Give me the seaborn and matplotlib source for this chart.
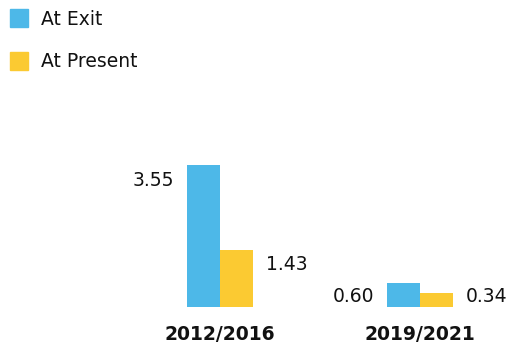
import matplotlib
matplotlib.use("Agg")
import matplotlib.pyplot as plt
from matplotlib.lines import Line2D
import pandas as pd
import seaborn as sns

periods = ["2012/2016", "2019/2021"]
series = ["At Exit", "At Present"]
at_exit = [3.55, 0.60]
at_present = [1.43, 0.34]
colors = ["#4DB8E8", "#FBCA32"]

df = pd.DataFrame({
    "period": periods * 2,
    "series": [series[0]] * 2 + [series[1]] * 2,
    "value": at_exit + at_present,
})

sns.set_style("white")
plt.rcParams["font.family"] = ["DejaVu Sans"]

fig = plt.figure(figsize=(5.13, 3.45), dpi=100)
ax = fig.add_axes([120 / 513, 38 / 345, 390 / 513, 142 / 345])

sns.barplot(data=df, x="period", y="value", hue="series", palette=colors,
            width=0.33, saturation=1, legend=False, linewidth=0, ax=ax)

ax.set_xlim(-0.5, 1.45)
ax.set_ylim(0, 3.55)

# value labels: exit to the left of its bar, present to the right
for i, cont in enumerate(ax.containers):
    for bar, val in zip(cont, [at_exit, at_present][i]):
        y = max(val - 0.375, 0.275)
        if i == 0:
            ax.annotate(f"{val:.2f}", (bar.get_x(), y), xytext=(-9, 0),
                        textcoords="offset points", ha="right", va="center",
                        fontsize=13.5, color="#111111")
        else:
            ax.annotate(f"{val:.2f}", (bar.get_x() + bar.get_width(), y),
                        xytext=(9, 0), textcoords="offset points",
                        ha="left", va="center", fontsize=13.5, color="#111111")

ax.set_xlabel("")
ax.set_ylabel("")
ax.set_yticks([])
ax.tick_params(axis="x", length=0, pad=13, labelsize=13.5)
for lbl in ax.get_xticklabels():
    lbl.set_fontweight("bold")
    lbl.set_color("#111111")
sns.despine(ax=ax, left=True, bottom=True)

handles = [Line2D([], [], marker="s", linestyle="", markersize=12.5,
                  markerfacecolor=c, markeredgecolor=c) for c in colors]
fig.legend(handles, series, loc="upper left", bbox_to_anchor=(-0.004, 1.004),
           frameon=False, fontsize=13.5, handlelength=1.0, handletextpad=0.7,
           labelspacing=1.25, borderpad=0.4, borderaxespad=0.2,
           labelcolor="#111111")

fig.savefig("out.png", dpi=100)
